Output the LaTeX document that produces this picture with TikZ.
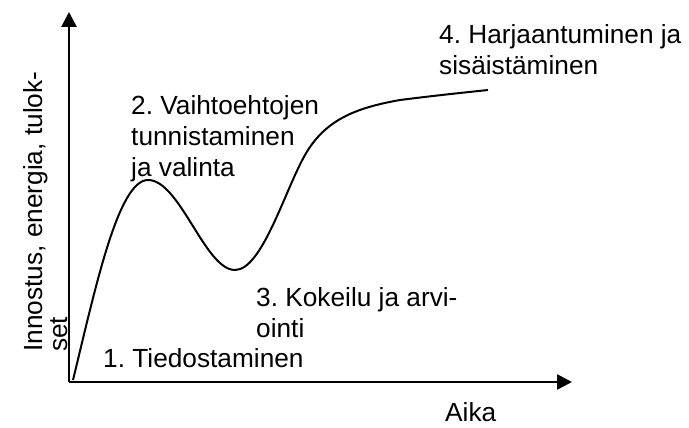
\documentclass[tikz,border=0pt]{standalone}
\usepackage{fontspec}
\setmainfont{Liberation Sans}
\usepackage{tikz}
\usetikzlibrary{arrows.meta, positioning}
\frenchspacing

\begin{document}
\begin{tikzpicture}[
    x=0.03cm, y=-0.03cm,
    font=\fontsize{22.4}{26.5}\selectfont,
    axisline/.style={line width=2.3pt, -{Triangle[length=0.45cm, width=0.45cm]}},
    trend/.style={line width=1.7pt},
    stagetext/.style={anchor=base west, inner sep=0pt, align=left}
]
\useasboundingbox (0,0) rectangle (689,428);

% Axes
\coordinate (o) at (69,382);
\coordinate (ytip) at (69,12);
\coordinate (xtip) at (572,382);
\draw[axisline] (o) -- (ytip);
\draw[axisline] (o) -- (xtip);

% Axis labels (anchored at the last line)
\node[stagetext, rotate=90, font=\fontsize{22.4}{20.5}\selectfont] (ylab) at (67,352)
    {Innostus, energia, tulok-\\set};
\node[stagetext] (xlab) at (445,422) {Aika};

% Curve
\draw[trend] (73,380) .. controls (95,290) and (118,180) .. (148,180)
    .. controls (180,180) and (205,270) .. (235,270)
    .. controls (262,270) and (285,190) .. (305,155)
    .. controls (325,120) and (355,108) .. (400,100)
    .. controls (440,95) and (460,93) .. (488,90);

% Stages
\node[stagetext] (s1) at (103,368) {1. Tiedostaminen};
\node[stagetext] (s2) at (131,177) {2. Vaihtoehtojen\\tunnistaminen\\ja valinta};
\node[stagetext] (s3) at (256,338) {3. Kokeilu ja arvi-\\ointi};
\node[stagetext] (s4) at (439,75) {4. Harjaantuminen ja\\sisäistäminen};

\end{tikzpicture}
\end{document}
